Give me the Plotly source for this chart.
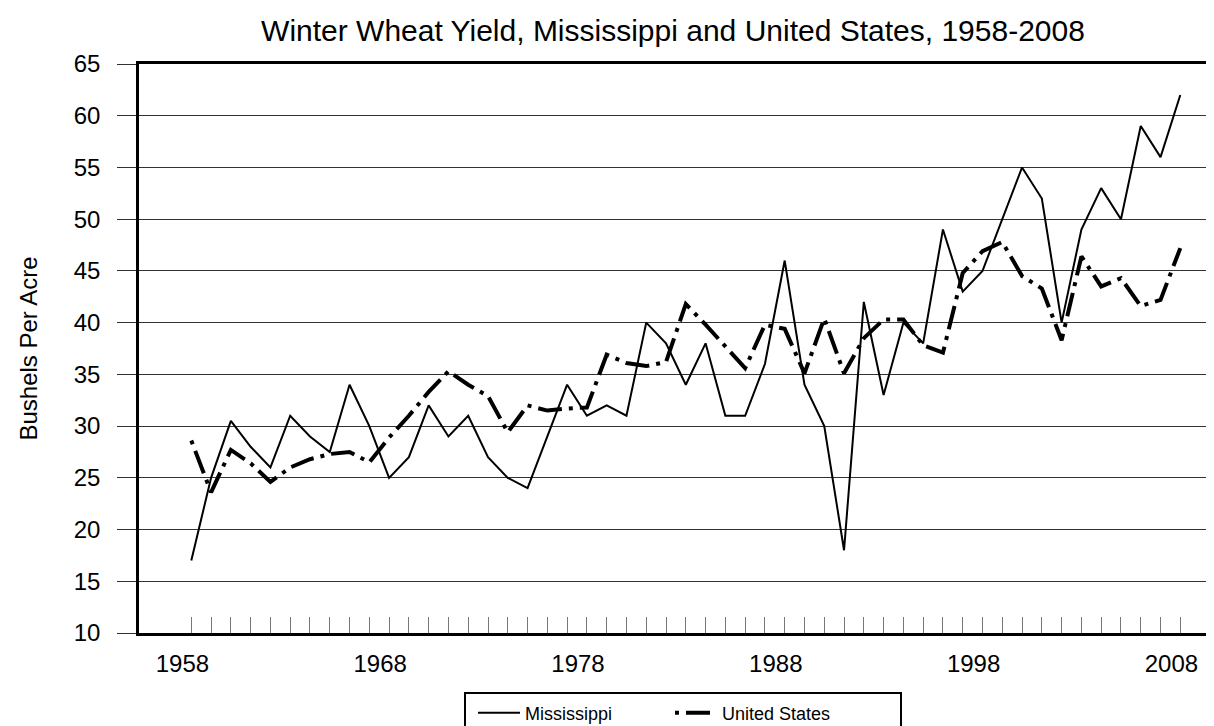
import plotly.graph_objects as go

years = list(range(1958, 2009))
mississippi = [17, 25, 30.5, 28, 26, 31, 29, 27.5, 34, 30,
               25, 27, 32, 29, 31, 27, 25, 24, 29, 34,
               31, 32, 31, 40, 38, 34, 38, 31, 31, 36,
               46, 34, 30, 18, 42, 33, 40, 38, 49, 43,
               45, 50, 55, 52, 40, 49, 53, 50, 59, 56, 62]
united_states = [28.6, 23.6, 27.7, 26.4, 24.6, 26.0, 26.8, 27.3, 27.5, 26.5,
                 28.9, 31.0, 33.3, 35.3, 34.0, 32.9, 29.4, 32.0, 31.5, 31.7,
                 31.8, 36.9, 36.1, 35.8, 36.2, 41.8, 39.8, 37.7, 35.6, 39.8,
                 39.4, 35.1, 40.4, 35.1, 38.5, 40.3, 40.3, 37.8, 37.1, 44.8,
                 46.9, 47.8, 44.5, 43.3, 38.3, 46.4, 43.5, 44.3, 41.6, 42.2, 47.2]
label_years = [1958, 1968, 1978, 1988, 1998, 2008]
label_text = [str(y) for y in label_years]
y_ticks = list(range(10, 70, 5))

FONT = "Liberation Sans, Arial, sans-serif"
W, H = 1214, 726
L, R, T, B = 131, 0, 56, 101
PW, PH = W - L - R, H - T - B
px_per_year = 19.78
x0_px = 183.3
xr = [1958 - (x0_px - L) / px_per_year, 1958 + (W - R - x0_px) / px_per_year]

def px_x(p):
    return (p - L) / PW

def px_y(p):
    return (H - B - p) / PH

fig = go.Figure()
fig.add_trace(go.Scatter(x=years, y=mississippi, name="Mississippi", mode="lines",
                         line=dict(color="black", width=2)))
fig.add_trace(go.Scatter(x=years, y=united_states, name="United States", mode="lines",
                         line=dict(color="black", width=4, dash="4px,7px,24px,7px")))

fig.update_layout(
    width=W, height=H,
    margin=dict(l=L, r=R, t=T, b=B, pad=0),
    paper_bgcolor="white", plot_bgcolor="white",
    font=dict(family=FONT, color="black"),
    title=dict(text="Winter Wheat Yield, Mississippi and United States, 1958-2008",
               font=dict(size=30, family=FONT, color="black"),
               xref="paper", x=px_x(665), xanchor="center",
               yref="container", y=1 - 22 / H, yanchor="middle"),
    xaxis=dict(range=xr, showgrid=False, zeroline=False,
               showline=True, linewidth=2.5, linecolor="black", mirror=True,
               ticks="inside", ticklen=16, tickwidth=1, tickcolor="#777777",
               tickmode="array", tickvals=years, showticklabels=False),
    xaxis2=dict(range=[r + 0.45 for r in xr], overlaying="x", anchor="y", side="bottom",
                showgrid=False, zeroline=False, showline=False, ticks="",
                tickmode="array", tickvals=label_years, ticktext=label_text,
                tickfont=dict(size=24, family=FONT, color="black"),
                ticklabelstandoff=14),
    yaxis=dict(range=[10, 65], tickmode="array", tickvals=y_ticks,
               showgrid=True, gridcolor="#333333", gridwidth=1, zeroline=False,
               showline=True, linewidth=2.5, linecolor="black",
               ticks="outside", ticklen=19, tickwidth=1, tickcolor="#333333",
               tickfont=dict(size=24, family=FONT, color="black"),
               ticklabelstandoff=12,
               title=dict(text="Bushels Per Acre", font=dict(size=24, family=FONT, color="black"),
                          standoff=30)),
    showlegend=True,
    legend=dict(orientation="h", x=px_x(465), xanchor="left", y=px_y(705), yanchor="middle",
                bgcolor="rgba(0,0,0,0)", borderwidth=0,
                font=dict(size=18, family=FONT, color="black"),
                itemwidth=42, entrywidth=140),
    shapes=[dict(type="rect", xref="paper", yref="paper",
                 x0=px_x(457), x1=px_x(893), y0=px_y(745), y1=px_y(685),
                 line=dict(color="black", width=2), fillcolor="rgba(0,0,0,0)", layer="above")],
)
fig.add_trace(go.Scatter(x=[], y=[], xaxis="x2", showlegend=False, hoverinfo="skip"))

fig.write_html("out.html")
